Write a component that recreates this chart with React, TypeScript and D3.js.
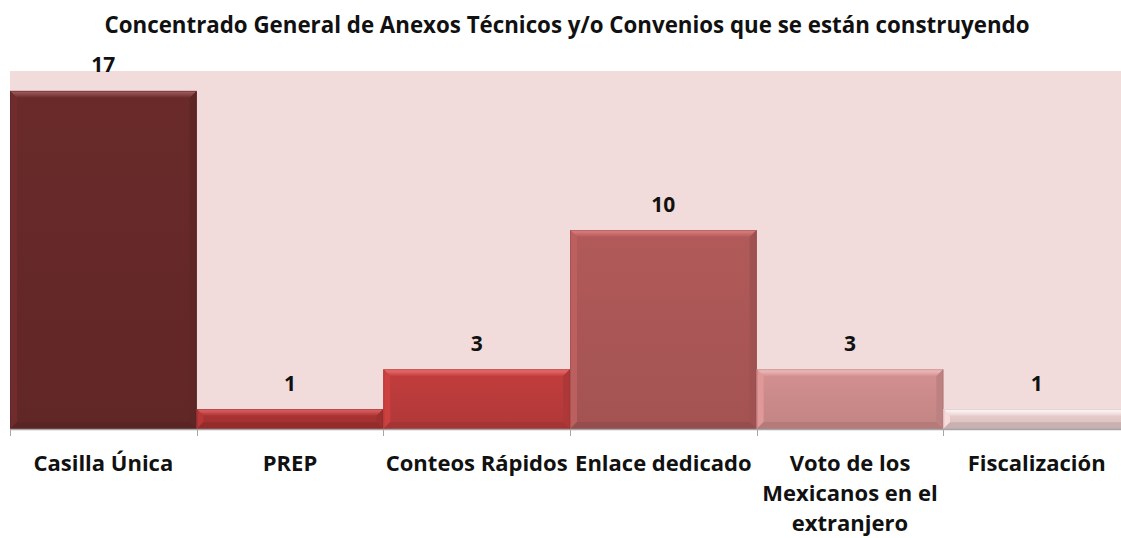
import { useEffect, useRef } from 'react';
import * as d3 from 'd3';

const TITLE = 'Concentrado General de Anexos Técnicos y/o Convenios que se están construyendo';
const CATEGORIES = ['Casilla Única', 'PREP', 'Conteos Rápidos', 'Enlace dedicado', 'Voto de los Mexicanos en el extranjero', 'Fiscalización'];
const VALUES = [17, 1, 3, 10, 3, 1];
const FACE_COLORS = ['#6a2a2a', '#ae3434', '#c23d3d', '#b25a5a', '#d49090', '#ecd0d0'];
const TOP_COLORS = ['#a86262', '#e46a6a', '#f07474', '#e08282', '#f6c4c4', '#ffffff'];

const WIDTH = 1121;
const HEIGHT = 538;
const FONT = '"Open Sans", "DejaVu Sans", sans-serif';

export default function App() {
  const svgRef = useRef<SVGSVGElement>(null);

  useEffect(() => {
    if (!svgRef.current) return;
    const svg = d3.select(svgRef.current);
    svg.selectAll('*').remove();

    const x = d3.scaleBand<string>().domain(CATEGORIES).range([10, 1130]).padding(0);
    const y = d3.scaleLinear().domain([0, 18]).range([429, 71]);

    const defs = svg.append('defs');

    // plot background
    svg.append('rect')
      .attr('x', 10)
      .attr('y', y(18))
      .attr('width', WIDTH - 10)
      .attr('height', y(0) - y(18))
      .attr('fill', '#f2dcdb');

    // title
    svg.append('text')
      .attr('x', 567)
      .attr('y', 33)
      .attr('text-anchor', 'middle')
      .attr('font-family', FONT)
      .attr('font-weight', 'bold')
      .attr('font-size', 22.3)
      .attr('fill', '#111')
      .text(TITLE);

    // bars with bevel
    CATEGORIES.forEach((cat, i) => {
      const x0 = x(cat)!;
      const w = x.bandwidth();
      const y0 = y(VALUES[i]);
      const y1 = y(0);
      const h = y1 - y0;
      const b = Math.min(7, h / 3);
      const g = svg.append('g');

      const gradId = `top-${i}`;
      const grad = defs.append('linearGradient')
        .attr('id', gradId)
        .attr('x1', 0).attr('y1', 0).attr('x2', 0).attr('y2', 1);
      grad.append('stop').attr('offset', '0%').attr('stop-color', TOP_COLORS[i]);
      grad.append('stop').attr('offset', '100%').attr('stop-color', FACE_COLORS[i]);

      const faceId = `face-${i}`;
      const fg = defs.append('linearGradient')
        .attr('id', faceId)
        .attr('x1', 0).attr('y1', 0).attr('x2', 0).attr('y2', 1);
      fg.append('stop').attr('offset', '0%').attr('stop-color', FACE_COLORS[i]);
      fg.append('stop').attr('offset', '100%')
        .attr('stop-color', d3.color(FACE_COLORS[i])!.darker(0.25).formatHex());

      g.append('rect')
        .attr('x', x0).attr('y', y0)
        .attr('width', w).attr('height', h)
        .attr('fill', `url(#${faceId})`);

      // top bevel
      g.append('polygon')
        .attr('points', `${x0},${y0} ${x0 + w},${y0} ${x0 + w - b},${y0 + b} ${x0 + b},${y0 + b}`)
        .attr('fill', `url(#${gradId})`);
      // left bevel
      g.append('polygon')
        .attr('points', `${x0},${y0} ${x0 + b},${y0 + b} ${x0 + b},${y1 - b} ${x0},${y1}`)
        .attr('fill', d3.color(FACE_COLORS[i])!.brighter(0.15).formatHex());
      // right bevel
      g.append('polygon')
        .attr('points', `${x0 + w},${y0} ${x0 + w - b},${y0 + b} ${x0 + w - b},${y1 - b} ${x0 + w},${y1}`)
        .attr('fill', d3.color(FACE_COLORS[i])!.darker(0.3).formatHex());
      // bottom bevel
      g.append('polygon')
        .attr('points', `${x0},${y1} ${x0 + b},${y1 - b} ${x0 + w - b},${y1 - b} ${x0 + w},${y1}`)
        .attr('fill', d3.color(FACE_COLORS[i])!.darker(0.45).formatHex());

      g.append('rect')
        .attr('x', x0 + 0.5).attr('y', y0 + 0.5)
        .attr('width', w - 1).attr('height', h - 1)
        .attr('fill', 'none')
        .attr('stroke', d3.color(FACE_COLORS[i])!.darker(0.6).formatHex())
        .attr('stroke-opacity', 0.5)
        .attr('stroke-width', 1);

      // value label
      svg.append('text')
        .attr('x', x0 + w / 2)
        .attr('y', y0 - 18.5)
        .attr('text-anchor', 'middle')
        .attr('font-family', FONT)
        .attr('font-weight', 'bold')
        .attr('font-size', 21)
        .attr('fill', '#111')
        .text(VALUES[i]);
    });

    // axis line and ticks
    svg.append('line')
      .attr('x1', 10).attr('x2', WIDTH)
      .attr('y1', y(0) + 0.5).attr('y2', y(0) + 0.5)
      .attr('stroke', '#a6a6a6')
      .attr('stroke-width', 1.5);
    CATEGORIES.forEach(cat => {
      const tx = Math.round(x(cat)!) + 0.5;
      svg.append('line')
        .attr('x1', tx).attr('x2', tx)
        .attr('y1', y(0)).attr('y2', y(0) + 7)
        .attr('stroke', '#a6a6a6');
    });

    // category labels, wrapped to the band width
    CATEGORIES.forEach(cat => {
      const cx = x(cat)! + x.bandwidth() / 2;
      const text = svg.append('text')
        .attr('x', cx)
        .attr('y', 471)
        .attr('text-anchor', 'middle')
        .attr('font-family', FONT)
        .attr('font-weight', 'bold')
        .attr('font-size', 22)
        .attr('fill', '#111');
      const words = cat.split(' ');
      let line: string[] = [];
      let lineNo = 0;
      let tspan = text.append('tspan').attr('x', cx).attr('y', 471);
      words.forEach(word => {
        line.push(word);
        tspan.text(line.join(' '));
        if ((tspan.node() as SVGTSpanElement).getComputedTextLength() > x.bandwidth() + 4 && line.length > 1) {
          line.pop();
          tspan.text(line.join(' '));
          line = [word];
          lineNo += 1;
          tspan = text.append('tspan').attr('x', cx).attr('y', 471 + lineNo * 30).text(word);
        }
      });
    });
  }, []);

  return (
    <svg
      ref={svgRef}
      width={WIDTH}
      height={HEIGHT}
      style={{ position: 'absolute', left: 0, top: 0, background: '#fff' }}
    />
  );
}
